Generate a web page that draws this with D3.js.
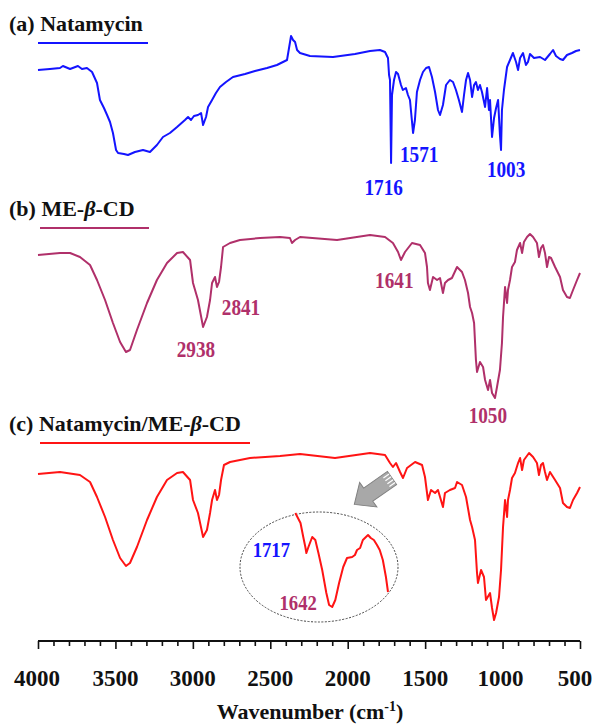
<!DOCTYPE html>
<html><head><meta charset="utf-8">
<script src="https://cdn.jsdelivr.net/npm/d3@7"></script>
<style>
html,body{margin:0;padding:0;background:#fff;}
svg{display:block;font-family:"Liberation Serif","Times New Roman",serif;font-weight:bold;}
</style></head>
<body>
<svg id="chart" width="596" height="727"></svg>
<script>
// ---- data ----
const xTicks = [4000, 3500, 3000, 2500, 2000, 1500, 1000, 500];
const panelTitles = ["Natamycin", "ME-β-CD", "Natamycin/ME-β-CD"];

// (a) Natamycin  [wavenumber, transmittance a.u.]
const natamycin = [[4000,100],[3923,101],[3858,102],[3839,104],[3793,101],[3742,104],[3716,101],[3684,102],[3651,98],[3619,87],[3600,70],[3574,62],[3554,55],[3535,48],[3516,37],[3496,20],[3483,17],[3445,16],[3419,15],[3374,18],[3322,20],[3277,18],[3232,25],[3193,33],[3148,37],[3102,43],[3051,50],[3031,53],[3012,50],[2993,54],[2967,55],[2947,57],[2934,45],[2915,53],[2902,63],[2876,70],[2851,77],[2825,83],[2786,88],[2741,93],[2663,96],[2599,99],[2521,102],[2457,105],[2392,110],[2379,122],[2366,134],[2353,130],[2340,128],[2327,120],[2308,117],[2244,114],[2095,113],[1953,116],[1856,119],[1792,120],[1759,118],[1740,112],[1733,95],[1727,90],[1720,7],[1714,75],[1701,90],[1688,98],[1675,96],[1656,85],[1644,80],[1624,82],[1611,75],[1598,70],[1578,37],[1566,50],[1553,78],[1533,90],[1514,98],[1494,102],[1475,103],[1456,93],[1436,78],[1417,60],[1404,55],[1385,65],[1365,85],[1340,90],[1320,88],[1301,80],[1282,70],[1262,58],[1249,75],[1236,90],[1223,97],[1210,90],[1197,73],[1184,85],[1172,88],[1159,80],[1146,85],[1133,78],[1113,63],[1100,82],[1088,60],[1081,70],[1068,33],[1055,52],[1042,62],[1029,70],[1017,35],[1010,20],[1004,60],[991,80],[971,103],[952,110],[933,117],[913,108],[900,100],[887,112],[868,117],[849,105],[836,108],[823,116],[797,112],[758,113],[726,110],[694,116],[674,120],[655,114],[629,111],[610,110],[584,115],[552,117],[526,119],[500,120]];

// (b) ME-beta-CD
const meCD = [[4000,155],[3858,157],[3793,157],[3729,153],[3664,145],[3619,130],[3567,110],[3516,87],[3470,68],[3432,58],[3406,60],[3361,80],[3296,107],[3232,130],[3167,147],[3102,157],[3064,158],[3018,150],[2999,127],[2967,110],[2934,83],[2909,93],[2889,110],[2876,127],[2857,133],[2844,123],[2831,128],[2818,143],[2805,163],[2760,167],[2696,170],[2566,172],[2437,173],[2373,172],[2360,167],[2340,170],[2308,173],[2069,170],[1856,175],[1759,173],[1708,167],[1675,158],[1656,150],[1630,158],[1585,167],[1533,165],[1501,157],[1488,143],[1482,127],[1469,120],[1449,133],[1423,130],[1404,132],[1385,117],[1372,127],[1352,130],[1327,132],[1294,143],[1262,138],[1243,130],[1223,117],[1210,103],[1197,97],[1184,87],[1172,50],[1165,38],[1146,48],[1126,43],[1113,30],[1094,20],[1081,30],[1068,17],[1049,12],[1036,23],[1017,40],[1004,67],[997,93],[984,123],[971,107],[965,120],[952,130],[939,143],[920,148],[907,160],[887,167],[874,157],[862,168],[842,173],[823,176],[803,173],[778,167],[765,153],[752,162],[739,165],[726,157],[713,143],[700,153],[687,152],[661,143],[629,133],[610,120],[584,113],[565,112],[545,120],[519,130],[500,137]];

// (c) Natamycin/ME-beta-CD
const complexSpec = [[4000,156],[3858,158],[3729,155],[3664,148],[3619,133],[3567,113],[3516,90],[3470,72],[3432,64],[3406,67],[3361,83],[3296,110],[3232,133],[3167,150],[3102,157],[3064,158],[3018,150],[2999,130],[2967,117],[2934,93],[2909,100],[2889,117],[2876,130],[2857,140],[2844,130],[2831,135],[2818,150],[2799,165],[2760,168],[2631,172],[2437,174],[2308,176],[2082,172],[1856,177],[1759,175],[1727,167],[1708,163],[1688,167],[1662,158],[1643,152],[1617,162],[1565,168],[1520,165],[1501,153],[1482,130],[1462,140],[1436,137],[1417,140],[1385,123],[1372,137],[1340,140],[1307,142],[1294,148],[1262,145],[1236,133],[1210,110],[1197,103],[1178,90],[1165,57],[1159,47],[1139,60],[1120,53],[1107,30],[1081,37],[1068,22],[1055,10],[1042,17],[1023,33],[1010,60],[997,103],[984,130],[971,113],[965,130],[952,140],[939,152],[920,157],[900,167],[887,172],[874,160],[862,170],[829,177],[803,173],[778,167],[765,155],[752,165],[739,167],[726,158],[713,150],[694,158],[661,150],[629,142],[610,127],[584,123],[565,122],[545,130],[519,137],[500,143]];

// inset: expanded 1750-1480 cm-1 region of (c)
const insetSpec = [[1749,107],[1734,97],[1726,83],[1720,73],[1717,67],[1711,73],[1700,83],[1691,80],[1682,67],[1671,50],[1659,27],[1651,15],[1642,13],[1633,20],[1622,37],[1610,53],[1599,62],[1584,63],[1576,65],[1570,70],[1561,72],[1553,80],[1547,82],[1538,85],[1530,82],[1521,80],[1512,75],[1504,70],[1495,60],[1486,43],[1480,28]];

const peaksA = [{t:"1716",w:1716,v:-25},{t:"1571",w:1571,v:8},{t:"1003",w:1003,v:-7}];
const peaksB = [{t:"2938",w:2938,v:53},{t:"2841",w:2841,v:95},{t:"1641",w:1641,v:122},{t:"1050",w:1050,v:-13}];
const peaksInset = [{t:"1717",w:1717,v:63},{t:"1642",w:1642,v:10}];

// ---- drawing ----
const svg = d3.select("#chart");
const x = d3.scaleLinear().domain([4000, 500]).range([38, 580]);
const yA = d3.scaleLinear().domain([0, 140]).range([170, 30]);
const yB = d3.scaleLinear().domain([0, 180]).range([410, 230]);
const yC = d3.scaleLinear().domain([0, 180]).range([630, 450]);
const xI = d3.scaleLinear().domain([1750, 1480]).range([295, 388]);
const yI = d3.scaleLinear().domain([0, 110]).range([620, 510]);

const cBlue = "#1414ff", cMag = "#b0306a", cRed = "#ff1414";

function drawLine(data, xs, ys, color, w) {
  svg.append("path").datum(data)
    .attr("fill", "none").attr("stroke", color).attr("stroke-width", w)
    .attr("stroke-linejoin", "round")
    .attr("d", d3.line().x(d => xs(d[0])).y(d => ys(d[1])));
}
drawLine(natamycin, x, yA, cBlue, 2);
drawLine(meCD, x, yB, cMag, 2);
drawLine(complexSpec, x, yC, cRed, 2);

// panel titles
function title(letter, name, yBase, color, ux1, ux2, uy) {
  const t = svg.append("text").attr("x", 9).attr("y", yBase)
    .attr("font-size", 22).attr("fill", "#111");
  t.append("tspan").text("(" + letter + ") ");
  const parts = name.split("β");
  t.append("tspan").text(parts[0]);
  if (parts.length > 1) {
    t.append("tspan").attr("font-style", "italic").text("β");
    t.append("tspan").text(parts[1]);
  }
  svg.append("line").attr("x1", ux1).attr("x2", ux2).attr("y1", uy).attr("y2", uy)
    .attr("stroke", color).attr("stroke-width", 2);
}
title("a", panelTitles[0], 31, cBlue, 38, 148, 43);
title("b", panelTitles[1], 216, cMag, 40, 149, 228);
title("c", panelTitles[2], 431, cRed, 40, 250, 443);

// peak labels (narrow, tall bold serif)
function labels(peaks, xs, ys, color, size, sx) {
  svg.selectAll(null).data(peaks).enter().append("text")
    .attr("transform", d => `translate(${xs(d.w) + (d.dx || 0)},${ys(d.v)}) scale(${sx},1)`)
    .attr("text-anchor", "middle").attr("font-size", size).attr("fill", color)
    .text(d => d.t);
}
peaksA[0].dx = -8; peaksA[1].dx = 5; peaksA[2].dx = 4;
peaksB[0].dx = -6.5; peaksB[1].dx = 23.5; peaksB[2].dx = -9; peaksB[3].dx = -7;
peaksInset[0].dx = -35; peaksInset[1].dx = -34;
labels(peaksA, x, yA, cBlue, 24, 0.8);
labels(peaksB, x, yB, cMag, 24, 0.8);

// inset ellipse + curve
svg.append("ellipse").attr("cx", 319).attr("cy", 567).attr("rx", 79).attr("ry", 55)
  .attr("fill", "none").attr("stroke", "#444").attr("stroke-width", 1)
  .attr("stroke-dasharray", "2,1.5");
drawLine(insetSpec, xI, yI, cRed, 2);
labels([peaksInset[0]], xI, yI, cBlue, 22, 0.85);
labels([peaksInset[1]], xI, yI, cMag, 22, 0.85);

// arrow
const ar = svg.append("g").attr("transform", "translate(392,478) rotate(145)");
ar.append("path").attr("d", "M0,-8 L29,-8 L29,-15 L46,0 L29,15 L29,8 L0,8 Z")
  .attr("fill", "#a8a8a8").attr("stroke", "#808080").attr("stroke-width", 1);
[-5.5, -2, 1.5, 5].forEach(o => ar.append("line").attr("x1", 0).attr("x2", 7)
  .attr("y1", o).attr("y2", o).attr("stroke", "#fff").attr("stroke-width", 1.2));

// x axis
const axisY = 641;
const ax = svg.append("g").attr("transform", `translate(0,${axisY})`)
  .call(d3.axisBottom(x).tickValues(d3.range(4000, 499, -100)).tickSize(5).tickFormat(""));
ax.select(".domain").attr("stroke", "#111").attr("stroke-width", 2)
  .attr("d", `M${x(4000)},0H${x(500)}`);
ax.selectAll(".tick line").attr("stroke", "#111").attr("stroke-width", 1.6)
  .attr("y2", d => (d % 500 === 0 ? 8 : 5));
svg.selectAll(null).data(xTicks).enter().append("text")
  .attr("x", d => x(d) + (d === 500 ? -5 : d === 4000 ? -1 : d === 1000 ? -2 : 0))
  .attr("y", 686).attr("text-anchor", "middle")
  .attr("font-size", 23).attr("fill", "#111").text(d => d);

const at = svg.append("text").attr("x", 310).attr("y", 719).attr("text-anchor", "middle")
  .attr("font-size", 22).attr("fill", "#111");
at.append("tspan").text("Wavenumber (cm");
at.append("tspan").attr("font-size", 14).attr("dy", -8).text("-1");
at.append("tspan").attr("dy", 8).text(")");
</script>
</body></html>
